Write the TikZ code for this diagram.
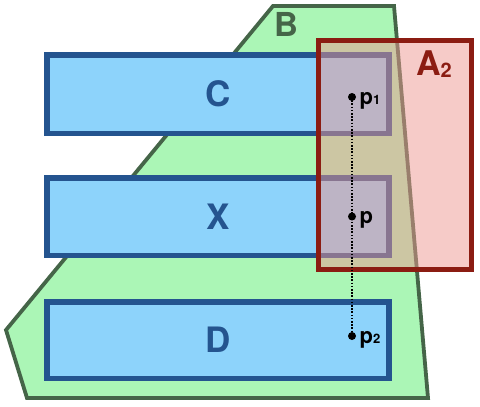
\documentclass[tikz,border=0pt]{standalone}
\usepackage{fontspec}
\setmainfont{TeX Gyre Heros}
\definecolor{bfill}{RGB}{171,246,182}
\definecolor{bstroke}{RGB}{69,101,72}
\definecolor{rfill}{RGB}{141,211,251}
\definecolor{rstroke}{RGB}{36,84,143}
\definecolor{afill}{RGB}{237,151,145}
\definecolor{astroke}{RGB}{139,28,18}
\tikzset{
  bshape/.style={fill=bfill, draw=bstroke, line width=3.8pt, line join=miter},
  blk/.style={rectangle, fill=rfill, draw=rstroke, line width=5.5pt, inner sep=0pt,
    text=rstroke, font=\bfseries\fontsize{35}{35}\selectfont},
  blabel/.style={text=bstroke, inner sep=0pt, font=\bfseries\fontsize{33}{33}\selectfont},
  a2box/.style={fill=afill, fill opacity=0.5, draw=astroke, line width=5pt},
  a2label/.style={text=astroke, inner sep=0pt, font=\bfseries\fontsize{34}{34}\selectfont},
  ptdot/.style={circle, fill=black, inner sep=0pt, minimum size=8pt},
  plabel/.style={anchor=base west, inner sep=0pt, font=\bfseries\fontsize{22}{22}\selectfont},
  dotline/.style={black, line width=1.6pt, dash pattern=on 1.6pt off 1.6pt}
}
\begin{document}
\begin{tikzpicture}[x=1pt,y=-1pt]
\useasboundingbox (0,0) rectangle (480,407);
\draw[bshape] (273,6) -- (394,6) -- (428,398) -- (27,398) -- (6,330) -- cycle;
\node[blabel] (B) at (286,24) {B};
\node[blk, minimum width=342, minimum height=78.5] (C) at (218,94) {C};
\node[blk, minimum width=342, minimum height=77.5] (X) at (218,216.5) {X};
\node[blk, minimum width=342, minimum height=76.5] (D) at (218,340) {D};
\draw[a2box] (318.5,40) rectangle (471.5,269.5);
\node[a2label, anchor=base] (A2) at (434,75) {A\raisebox{-2pt}{\fontsize{20}{20}\selectfont 2}};
\node[ptdot] (p1) at (352,97) {};
\node[ptdot] (p) at (352,216.5) {};
\node[ptdot] (p2) at (352,336) {};
\draw[dotline] (p1.center) -- (p2.center);
\node[plabel] (l1) at ([shift={(7.5,7)}]p1.center) {p\fontsize{13}{13}\selectfont 1};
\node[plabel] (l) at ([shift={(7.5,6.5)}]p.center) {p};
\node[plabel] (l2) at ([shift={(7.5,7)}]p2.center) {p\fontsize{13}{13}\selectfont 2};
\end{tikzpicture}
\end{document}
